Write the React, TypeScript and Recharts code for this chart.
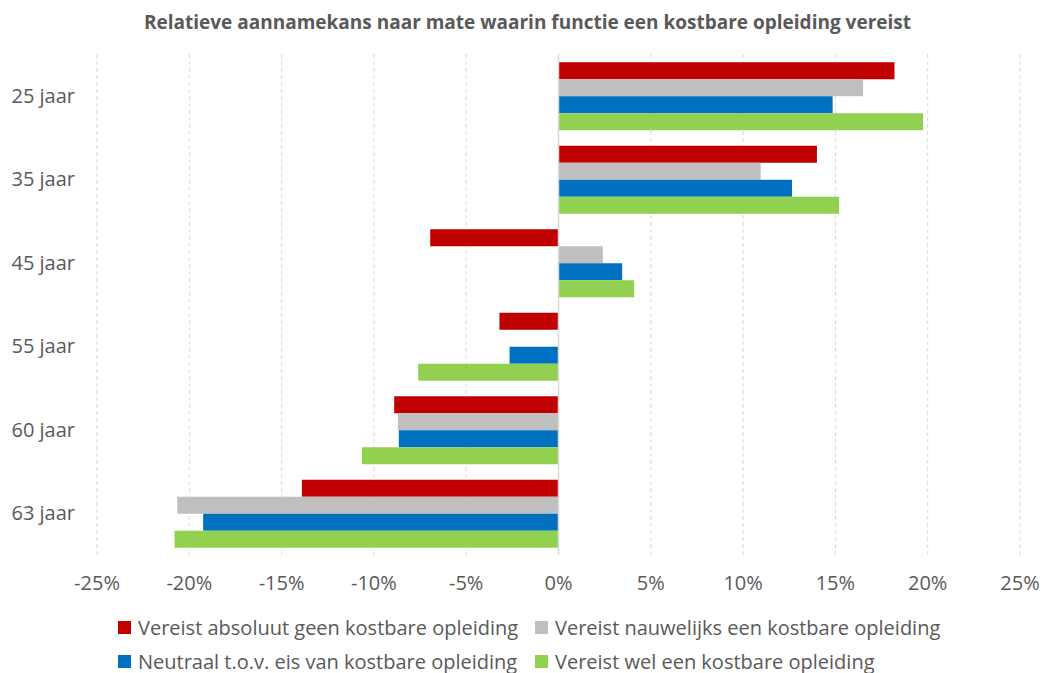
import { BarChart, Bar, XAxis, YAxis, CartesianGrid, ReferenceLine } from 'recharts';

const ages = ['25 jaar', '35 jaar', '45 jaar', '55 jaar', '60 jaar', '63 jaar'];
const geenOpleiding = [18.2, 14.0, -6.95, -3.2, -8.9, -13.9];
const nauwelijksOpleiding = [16.5, 10.95, 2.4, null, -8.7, -20.65];
const neutraalOpleiding = [14.85, 12.65, 3.45, -2.65, -8.65, -19.25];
const welOpleiding = [19.75, 15.2, 4.1, -7.6, -10.65, -20.8];
const xTicks = [-25, -20, -15, -10, -5, 0, 5, 10, 15, 20, 25];

const series = [
  { key: 'geen', name: 'Vereist absoluut geen kostbare opleiding', color: '#C00000', values: geenOpleiding },
  { key: 'nauwelijks', name: 'Vereist nauwelijks een kostbare opleiding', color: '#BFBFBF', values: nauwelijksOpleiding },
  { key: 'neutraal', name: 'Neutraal t.o.v. eis van kostbare opleiding', color: '#0070C0', values: neutraalOpleiding },
  { key: 'wel', name: 'Vereist wel een kostbare opleiding', color: '#92D050', values: welOpleiding },
];

const data = ages.map((age, i) => {
  const row: Record<string, string | number | null> = { age };
  series.forEach((s) => { row[s.key] = s.values[i]; });
  return row;
});

const FONT = "'Open Sans', sans-serif";
const TEXT = '#595959';
const FONT_SIZE = 20;

// legend is laid out as a 2x2 grid under the axis
const legendCols = [118, 535];
const legendRows = [627, 661];

export default function App() {
  return (
    <div style={{ position: 'absolute', left: 0, top: 0, width: 1042, height: 673, background: '#fff', fontFamily: FONT }}>
      <div style={{
        position: 'absolute', top: 9, left: 0, width: 1042, paddingLeft: 13, boxSizing: 'border-box',
        textAlign: 'center', fontSize: 19, fontWeight: 700, color: TEXT, lineHeight: '26px', whiteSpace: 'nowrap',
      }}>
        Relatieve aannamekans naar mate waarin functie een kostbare opleiding vereist
      </div>

      <BarChart
        width={1042}
        height={673}
        data={data}
        layout="vertical"
        margin={{ top: 54, right: 22, bottom: 78, left: 0 }}
        barGap={0}
        barCategoryGap="10%"
      >
        <CartesianGrid horizontal={false} stroke="#D9D9D9" strokeDasharray="4 3" />
        <XAxis
          type="number"
          domain={[-25, 25]}
          ticks={xTicks}
          tickFormatter={(v) => `${v}%`}
          axisLine={false}
          tickLine={false}
          tickMargin={15}
          height={40}
          tick={{ fill: TEXT, fontSize: FONT_SIZE, fontFamily: FONT }}
        />
        <YAxis
          type="category"
          dataKey="age"
          width={97}
          axisLine={false}
          tickLine={false}
          tickMargin={16}
          tick={{ fill: TEXT, fontSize: FONT_SIZE, fontFamily: FONT }}
        />
        <ReferenceLine x={0} stroke="#D9D9D9" strokeWidth={1.5} />
        {series.map((s) => (
          <Bar key={s.key} dataKey={s.key} name={s.name} fill={s.color} isAnimationActive={false} />
        ))}
      </BarChart>

      {series.map((s, i) => (
        <div
          key={s.key}
          style={{
            position: 'absolute',
            left: legendCols[i % 2],
            top: legendRows[Math.floor(i / 2)] - 14,
            height: 28,
            display: 'flex',
            alignItems: 'center',
            fontSize: FONT_SIZE,
            color: TEXT,
            whiteSpace: 'nowrap',
          }}
        >
          <span style={{ display: 'inline-block', width: 13, height: 13, background: s.color, marginRight: 7 }} />
          {s.name}
        </div>
      ))}
    </div>
  );
}
